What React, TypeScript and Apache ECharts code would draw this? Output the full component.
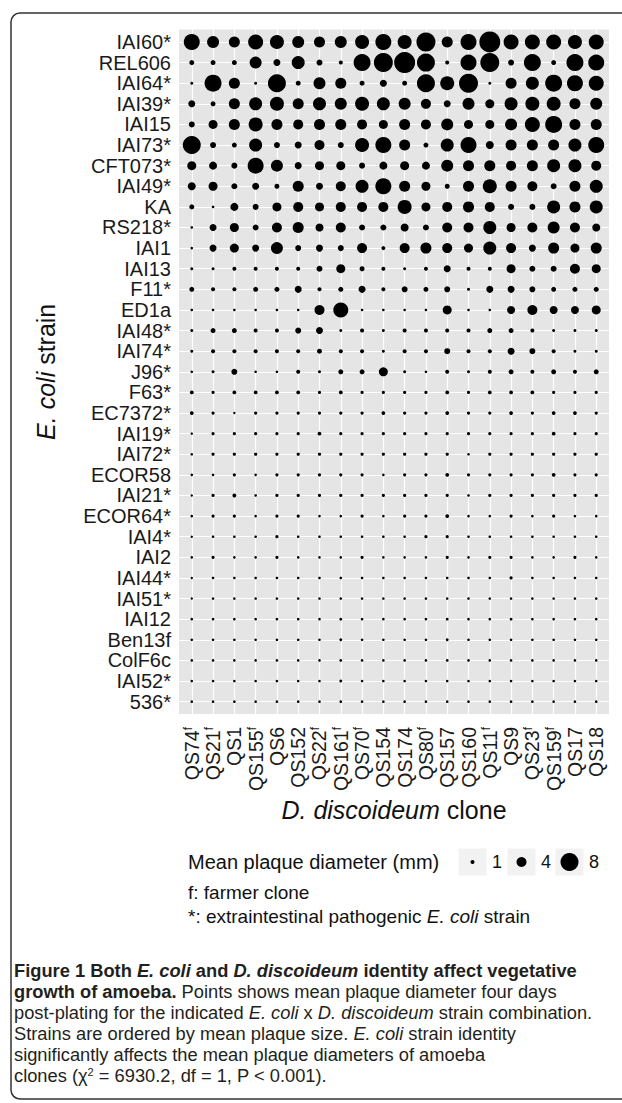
import React, { useEffect, useRef } from "react";
import * as echarts from "echarts";

const strains = ["IAI60*", "REL606", "IAI64*", "IAI39*", "IAI15", "IAI73*", "CFT073*", "IAI49*", "KA", "RS218*", "IAI1", "IAI13", "F11*", "ED1a", "IAI48*", "IAI74*", "J96*", "F63*", "EC7372*", "IAI19*", "IAI72*", "ECOR58", "IAI21*", "ECOR64*", "IAI4*", "IAI2", "IAI44*", "IAI51*", "IAI12", "Ben13f", "ColF6c", "IAI52*", "536*"];
const clones = ["QS74", "QS21", "QS1", "QS155", "QS6", "QS152", "QS22", "QS161", "QS70", "QS154", "QS174", "QS80", "QS157", "QS160", "QS11", "QS9", "QS23", "QS159", "QS17", "QS18"];
const farmer = [true, true, false, true, false, false, true, true, true, false, false, true, false, false, true, false, true, true, false, false];
const legendBreaks = [1, 4, 8];

// mean plaque diameter (mm), one array per E. coli strain, in clone order
const v_IAI60 = [7, 5, 4.5, 6.5, 6, 5, 4.5, 5, 6, 7, 6, 8.5, 4.5, 7, 9.5, 6.5, 6.5, 6.5, 6, 6.5];
const v_REL606 = [1.5, 1.5, 1.5, 5, 2.5, 5.5, 2, 1, 7.5, 8.5, 9.5, 8, 1, 7, 8.5, 2, 7.5, 1.5, 7.5, 7];
const v_IAI64 = [0.5, 7.5, 4.5, 0.5, 8, 1.5, 5, 4.5, 1.5, 2.5, 1.5, 8, 6, 8.5, 0.5, 4.5, 5.5, 7.5, 7, 6.5];
const v_IAI39 = [2.5, 1.5, 4.5, 5.5, 6, 4.5, 5.5, 5, 6, 5.5, 5, 4, 2.5, 5, 3.5, 5.5, 6, 6, 4.5, 5];
const v_IAI15 = [2, 3.5, 4.5, 6, 4.5, 4, 4.5, 4.5, 4, 3.5, 4.5, 4, 5, 3.5, 3.5, 5, 6.5, 7.5, 4.5, 4.5];
const v_IAI73 = [8, 2, 1.5, 5.5, 2, 2.5, 4, 2, 6, 7, 4.5, 1.5, 5.5, 7, 3, 4.5, 4.5, 4.5, 5.5, 7];
const v_CFT073 = [3.5, 3, 2, 7, 5, 2.5, 3.5, 3.5, 2, 3, 3.5, 3, 5, 4.5, 4.5, 4, 4.5, 5.5, 5.5, 4];
const v_IAI49 = [3, 3.5, 2, 2.5, 1.5, 4.5, 2.5, 4, 5.5, 7, 4.5, 3.5, 1.5, 4.5, 6, 4.5, 4, 2, 4.5, 5.5];
const v_KA = [1.5, 0.3, 3, 2, 3.5, 4, 3.5, 4, 4, 4, 6, 3.5, 4, 4.5, 4, 2, 2, 5.5, 4.5, 5.5];
const v_RS218 = [0.3, 2.5, 3.5, 2, 4, 4.5, 3, 4, 2, 2, 3, 2, 4, 4, 5.5, 3.5, 4, 5, 4, 3];
const v_IAI1 = [0.3, 2.5, 3.5, 2.5, 5, 2, 2.5, 2, 4, 1, 4, 4.5, 4, 3.5, 5.5, 4, 2.5, 4.5, 3.5, 4.5];
const v_IAI13 = [0.5, 0.5, 1, 1, 1, 1, 2, 3.5, 1.5, 1, 0.5, 1, 2.5, 1, 1, 3.5, 2, 2, 4, 3.5];
const v_F11 = [1.5, 1, 1, 1.5, 1.5, 2.5, 1, 1.5, 2.5, 1, 2, 1.5, 2, 0.5, 2.5, 2.5, 2, 1.5, 1.5, 1.5];
const v_ED1a = [0.3, 0.3, 0.3, 0.3, 0.3, 0.3, 4, 6.5, 0.3, 0.3, 0.3, 0.3, 3.5, 0.3, 0.3, 3, 4, 3, 3, 3.5];
const v_IAI48 = [0.5, 1.5, 1.5, 1, 1, 2, 2.5, 0.5, 1, 0.5, 1, 1, 1, 1, 1.5, 1.5, 1, 0.5, 0.5, 0.5];
const v_IAI74 = [0.5, 1, 1, 1, 1, 1, 1.5, 1, 1, 0.5, 1, 1, 2, 1, 1, 2.5, 2, 1, 0.5, 0.5];
const v_J96 = [0.3, 0.5, 2, 0.3, 0.3, 1, 0.5, 1.5, 1.5, 3.5, 0.5, 0.3, 1, 0.5, 1, 1.5, 1, 1.5, 1, 1.5];
const v_F63 = [0.9, 0.6, 0.9, 0.9, 0.9, 0.9, 0.6, 0.9, 0.6, 0.6, 0.6, 0.6, 0.9, 0.6, 0.9, 0.9, 0.9, 0.6, 0.6, 0.6];
const v_EC7372 = [0.9, 0.6, 0.2, 0.6, 0.6, 0.6, 0.6, 0.6, 0.6, 0.9, 0.6, 0.6, 0.9, 0.6, 0.6, 0.9, 0.6, 0.9, 0.9, 0.6];
const v_IAI19 = [0.2, 0.6, 0.6, 0.6, 0.6, 0.6, 0.9, 0.6, 0.6, 0.6, 0.6, 0.6, 0.6, 0.6, 0.6, 0.6, 0.6, 0.9, 0.6, 0.6];
const v_IAI72 = [0.3, 0.6, 0.6, 0.6, 0.6, 0.6, 0.6, 0.6, 0.6, 0.6, 0.6, 0.6, 0.6, 0.3, 0.6, 0.6, 0.6, 0.6, 0.6, 0.6];
const v_ECOR58 = [0.3, 0.3, 0.6, 0.3, 0.6, 0.6, 0.6, 0.6, 0.6, 0.3, 0.6, 0.6, 0.9, 0.6, 0.6, 0.6, 0.6, 0.9, 0.6, 0.6];
const v_IAI21 = [0.2, 0.6, 0.9, 0.3, 0.6, 0.6, 0.6, 0.6, 0.6, 0.6, 0.6, 0.6, 0.6, 0.3, 0.6, 0.6, 0.6, 0.6, 0.6, 0.6];
const v_ECOR64 = [0.3, 0.6, 0.6, 0.3, 0.6, 0.6, 0.3, 0.3, 0.6, 0.3, 0.6, 0.6, 0.9, 0.3, 0.3, 0.6, 0.3, 0.6, 0.3, 0.3];
const v_IAI4 = [0.2, 0.3, 0.3, 0.3, 0.6, 0.3, 0.3, 0.3, 0.3, 0.3, 0.3, 0.6, 0.6, 0.3, 0.3, 0.3, 0.3, 0.3, 0.3, 0.3];
const v_IAI2 = [0.3, 0.6, 0.3, 0.3, 0.6, 0.3, 0.3, 0.3, 0.6, 0.3, 0.3, 0.3, 0.6, 0.3, 0.6, 0.6, 0.3, 0.3, 0.6, 0.3];
const v_IAI44 = [0.2, 0.3, 0.3, 0.3, 0.3, 0.3, 0.3, 0.3, 0.3, 0.3, 0.3, 0.3, 0.3, 0.3, 0.3, 0.6, 0.3, 0.3, 0.3, 0.3];
const v_IAI51 = [0.2, 0.3, 0.3, 0.3, 0.3, 0.3, 0.3, 0.3, 0.3, 0.3, 0.3, 0.3, 0.3, 0.3, 0.3, 0.3, 0.3, 0.3, 0.3, 0.3];
const v_IAI12 = [0.3, 0.3, 0.3, 0.3, 0.3, 0.3, 0.3, 0.4, 0.3, 0.3, 0.3, 0.3, 0.4, 0.3, 0.3, 0.4, 0.3, 0.3, 0.3, 0.3];
const v_Ben13f = [0.3, 0.3, 0.3, 0.3, 0.3, 0.3, 0.3, 0.4, 0.3, 0.3, 0.3, 0.3, 0.4, 0.3, 0.3, 0.3, 0.3, 0.3, 0.3, 0.3];
const v_ColF6c = [0.3, 0.3, 0.3, 0.3, 0.3, 0.3, 0.3, 0.4, 0.3, 0.3, 0.3, 0.3, 0.4, 0.3, 0.3, 0.3, 0.3, 0.3, 0.3, 0.3];
const v_IAI52 = [0.3, 0.3, 0.3, 0.3, 0.3, 0.3, 0.3, 0.4, 0.3, 0.3, 0.3, 0.3, 0.3, 0.3, 0.3, 0.3, 0.3, 0.3, 0.3, 0.3];
const v_536 = [0.3, 0.3, 0.3, 0.3, 0.3, 0.3, 0.3, 0.3, 0.3, 0.3, 0.3, 0.3, 0.3, 0.3, 0.3, 0.3, 0.3, 0.3, 0.3, 0.3];

const rows = [v_IAI60, v_REL606, v_IAI64, v_IAI39, v_IAI15, v_IAI73, v_CFT073, v_IAI49, v_KA, v_RS218, v_IAI1, v_IAI13, v_F11, v_ED1a, v_IAI48, v_IAI74, v_J96, v_F63, v_EC7372, v_IAI19, v_IAI72, v_ECOR58, v_IAI21, v_ECOR64, v_IAI4, v_IAI2, v_IAI44, v_IAI51, v_IAI12, v_Ben13f, v_ColF6c, v_IAI52, v_536];

const W = 622;
const H = 1103;
const PANEL = { x0: 179, x1: 609, y0: 29.6, y1: 714 };
const AX_FONT = "'Liberation Sans', Arial, sans-serif";
const CAP_FONT = "'Liberation Sans', Arial, sans-serif";
const CAP_SIZE = 18.3;
const dotSize = (v: number) => 2 + 2 * v;

export default function App() {
  const ref = useRef<HTMLDivElement>(null);
  useEffect(() => {
    if (!ref.current) return;
    const chart = echarts.init(ref.current, undefined, { renderer: "svg" });
    const xIdx = clones.map((_, i) => i);
    const yIdx = strains.map((_, j) => j);
    const data: number[][] = [];
    rows.forEach((r, j) => r.forEach((v, i) => data.push([i, j, v])));

    const legendX = [458, 507, 555];
    const keyW = 29, keyH = 28, keyY = 848;
    const legendEls: any[] = [
      { type: "text", x: 188, y: 862, style: { text: "Mean plaque diameter (mm)", fontSize: 20, fontFamily: AX_FONT, fill: "#111", align: "left", verticalAlign: "middle", textAlign: "left", textVerticalAlign: "middle" } },
    ];
    legendBreaks.forEach((b, k) => {
      legendEls.push({ type: "rect", shape: { x: legendX[k], y: keyY, width: keyW, height: keyH }, style: { fill: "#f2f2f2", stroke: "#fff", lineWidth: 1 } });
      legendEls.push({ type: "circle", shape: { cx: legendX[k] + keyW / 2, cy: keyY + keyH / 2, r: dotSize(b) / 2 }, style: { fill: "#000" } });
      legendEls.push({ type: "text", x: legendX[k] + keyW + 5, y: 862, style: { text: String(b), fontSize: 18, fontFamily: AX_FONT, fill: "#111", align: "left", verticalAlign: "middle", textAlign: "left", textVerticalAlign: "middle" } });
    });

    const cap = (extra: any) => ({ fontSize: CAP_SIZE, fontFamily: CAP_FONT, fill: "#231f20", ...extra });
    const capRich = {
      b: cap({ fontWeight: "bold" }),
      bi: cap({ fontWeight: "bold", fontStyle: "italic" }),
      i: cap({ fontStyle: "italic" }),
      n: cap({}),
      sup: cap({ fontSize: 11, verticalAlign: "top" }),
    };
    const capLines = [
      "{b|Figure 1 Both }{bi|E. coli}{b| and }{bi|D. discoideum}{b| identity affect vegetative}",
      "{b|growth of amoeba.}{n| Points shows mean plaque diameter four days}",
      "{n|post-plating for the indicated }{i|E. coli}{n| x }{i|D. discoideum}{n| strain combination.}",
      "{n|Strains are ordered by mean plaque size. }{i|E. coli}{n| strain identity}",
      "{n|significantly affects the mean plaque diameters of amoeba}",
      "{n|clones (χ}{sup|2}{n| = 6930.2, df = 1, P < 0.001).}",
    ];
    const capY = [970, 991, 1012, 1033, 1054, 1075];

    const textStyle = (extra: any) => ({ fontFamily: AX_FONT, fill: "#111", ...extra });

    chart.setOption({
      animation: false,
      backgroundColor: "#fff",
      grid: {
        left: PANEL.x0, top: PANEL.y0, width: PANEL.x1 - PANEL.x0, height: PANEL.y1 - PANEL.y0,
        show: true, backgroundColor: "#e5e5e5", borderWidth: 0, containLabel: false,
      },
      xAxis: {
        type: "value", min: -0.6, max: clones.length - 0.4,
        axisLine: { show: false }, splitLine: { show: false },
        axisTick: { show: true, customValues: xIdx, length: 6, lineStyle: { color: "#555", width: 1 } },
        axisLabel: {
          customValues: xIdx, rotate: 90, margin: 13, fontSize: 19.5, fontFamily: AX_FONT, color: "#1a1a1a",
          showMinLabel: true, showMaxLabel: true, hideOverlap: false,
          formatter: (v: number) => clones[Math.round(v)] + (farmer[Math.round(v)] ? "{sup|f}" : ""),
          rich: { sup: { fontSize: 12, fontFamily: AX_FONT, color: "#1a1a1a", verticalAlign: "top" } },
        },
      },
      yAxis: {
        type: "value", inverse: true, min: -0.6, max: strains.length - 0.4,
        axisLine: { show: false }, splitLine: { show: false },
        axisTick: { show: true, customValues: yIdx, length: 6, lineStyle: { color: "#555", width: 1 } },
        axisLabel: {
          customValues: yIdx, margin: 8, fontSize: 20, fontFamily: AX_FONT, color: "#1a1a1a",
          showMinLabel: true, showMaxLabel: true, hideOverlap: false,
          formatter: (v: number) => strains[Math.round(v)],
        },
      },
      series: [
        {
          type: "scatter", data: [], silent: true, z: 1,
          markLine: {
            z: 1, silent: true, symbol: "none", animation: false, label: { show: false },
            lineStyle: { color: "#ffffff", width: 1.2, type: "solid" },
            emphasis: { disabled: true },
            data: [...xIdx.map((i) => ({ xAxis: i })), ...yIdx.map((j) => ({ yAxis: j }))],
          },
        },
        {
          type: "scatter", z: 10, silent: true,
          data,
          symbolSize: (val: number[]) => dotSize(val[2]),
          itemStyle: { color: "#000", opacity: 1 },
        },
      ],
      graphic: [
        { type: "rect", z: 100, shape: { x: 11, y: 13, width: 700, height: 1086, r: 9 }, style: { fill: "none", stroke: "#333", lineWidth: 1.5 } },
        { type: "text", x: 46, y: (PANEL.y0 + PANEL.y1) / 2, rotation: Math.PI / 2,
          style: textStyle({ text: "{i|E. coli} strain", fontSize: 25, align: "center", verticalAlign: "middle", textAlign: "center", textVerticalAlign: "middle",
            rich: { i: { fontStyle: "italic", fontSize: 25, fontFamily: AX_FONT, fill: "#111" } } }) },
        { type: "text", x: (PANEL.x0 + PANEL.x1) / 2, y: 810,
          style: textStyle({ text: "{i|D. discoideum} clone", fontSize: 25, align: "center", verticalAlign: "middle", textAlign: "center", textVerticalAlign: "middle",
            rich: { i: { fontStyle: "italic", fontSize: 25, fontFamily: AX_FONT, fill: "#111" } } }) },
        ...legendEls,
        { type: "text", x: 188, y: 892, style: textStyle({ text: "f: farmer clone", fontSize: 19, align: "left", verticalAlign: "middle", textAlign: "left", textVerticalAlign: "middle" }) },
        { type: "text", x: 188, y: 916, style: textStyle({ text: "*: extraintestinal pathogenic {i|E. coli} strain", fontSize: 19, align: "left", verticalAlign: "middle", textAlign: "left", textVerticalAlign: "middle",
          rich: { i: { fontStyle: "italic", fontSize: 19, fontFamily: AX_FONT, fill: "#111" } } }) },
        ...capLines.map((t, k) => ({
          type: "text", x: 14, y: capY[k],
          style: { text: t, rich: capRich, fontSize: CAP_SIZE, fontFamily: CAP_FONT, fill: "#231f20", align: "left", verticalAlign: "middle", textAlign: "left", textVerticalAlign: "middle" },
        })),
      ],
    });
    return () => chart.dispose();
  }, []);
  return <div ref={ref} style={{ position: "absolute", left: 0, top: 0, width: W, height: H }} />;
}
